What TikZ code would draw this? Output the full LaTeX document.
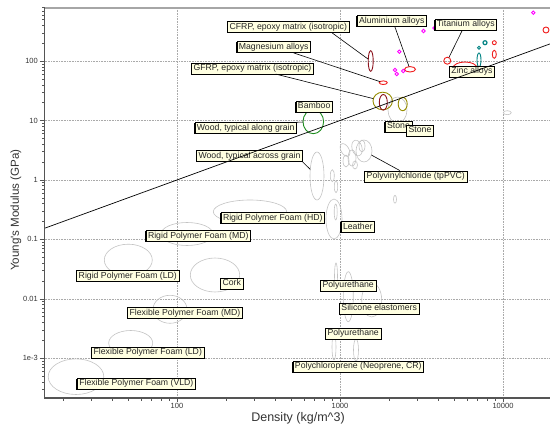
\documentclass[tikz,border=0pt]{standalone}
\usepackage{fontspec}
\setmainfont{Liberation Sans}
\usetikzlibrary{shapes.geometric,shadows}
\definecolor{lemon}{RGB}{255,255,225}
\definecolor{softgray}{RGB}{195,195,195}
\definecolor{gridgray}{RGB}{170,170,170}
\definecolor{axisgray}{RGB}{85,85,85}
\definecolor{darkred}{RGB}{140,20,30}
\definecolor{mustard}{RGB}{150,140,0}
\definecolor{matteal}{RGB}{0,130,130}
\definecolor{matgreen}{RGB}{30,140,30}
\definecolor{matpink}{RGB}{255,0,255}
\definecolor{matred}{RGB}{240,30,30}
\tikzset{
  lbl/.style={draw=black, fill=lemon, line width=0.5pt, text=black!85,
    font=\fontsize{8.7}{9}\selectfont, inner xsep=2pt, inner ysep=1.4pt,
    text height=6.4pt, text depth=1.8pt,
    drop shadow={shadow xshift=-0.8pt, shadow yshift=-0.8pt, opacity=1, fill=black}},
  soft/.style={draw=softgray, ellipse, inner sep=0pt, outer sep=0pt, line width=0.6pt},
  mat/.style={draw=#1, ellipse, inner sep=0pt, outer sep=0pt, line width=0.9pt},
  dims/.style n args={2}{minimum width=#1pt, minimum height=#2pt},
  lead/.style={draw=black, line width=0.6pt},
  gridline/.style={gridgray, densely dotted, line width=0.6pt},
  axisline/.style={axisgray, line width=0.6pt},
  ticklbl/.style={font=\fontsize{7.5}{8}\selectfont, text=black!80, inner sep=1pt}
}

\begin{document}
\begin{tikzpicture}[x=1pt,y=-1pt]
    \useasboundingbox (0,0) rectangle (550,428);

    % grid
    \foreach \gx in {177,340,503} \draw[gridline] (\gx,8) -- (\gx,398);
    \foreach \v in {-3,...,2} \draw[gridline] (44.5,{180-59.4*\v}) -- (550,{180-59.4*\v});

    % soft materials
    \node[soft, dims={55.6}{35.6}] (fvldel) at (76,376.7) {};
    \node[soft, dims={44}{25}] (fldel) at (130.7,343) {};
    \node[soft, dims={34}{28}] (fmdel) at (170,309.3) {};
    \node[soft, dims={48}{31.6}] (rldel) at (128.3,260) {};
    \node[soft, dims={52}{23}] (rmdel) at (187,234) {};
    \node[soft, dims={73.4}{23.4}] (rhdel) at (250,211.7) {};
    \node[soft, dims={49.4}{34}] (corkel) at (215,275) {};
    \node[soft, dims={14}{48}] (woodacel) at (317,176) {};
    \node[soft, dims={4}{12}] (sliverA) at (332.3,175.7) {};
    \node[soft, dims={3.4}{12}] (sliverB) at (336,186.7) {};
    \node[soft, dims={16}{40}] (leatherel) at (334,219) {};
    \node[soft, dims={3}{16}] (leatherin) at (335.7,212) {};
    \node[soft, dims={3}{8}] (sliverC) at (395,199.3) {};
    \node[soft, dims={19}{26}] (stonegr) at (397.5,110) {};
    \node[soft, dims={8}{4}] (sliverD) at (507.3,112.7) {};
    \node[soft, dims={3}{26}] (puelA) at (336,276) {};
    \node[soft, dims={10}{50}] (puelB) at (348.3,296.7) {};
    \node[soft, dims={20}{34}] (silel) at (371.7,300) {};
    \node[soft, dims={4}{26}] (neoelA) at (334,347) {};
    \node[soft, dims={5}{22}] (neoelB) at (356,350) {};
    % pvc cluster
    \node[soft, dims={8}{14}, rotate=30] (pvcA) at (345,150) {};
    \node[soft, dims={8}{16}] (pvcB) at (352,158) {};
    \node[soft, dims={10}{16}, rotate=15] (pvcC) at (357,148) {};
    \node[soft, dims={6}{12}] (pvcD) at (362,146) {};
    \node[soft, dims={16}{22}] (pvcE) at (364,151) {};
    \node[soft, dims={6}{12}] (pvcF) at (346,161) {};
    \node[soft, dims={5}{8}] (pvcG) at (355,165) {};

    % stiff materials
    \node[mat=darkred, dims={5}{20.6}] (cfrpel) at (370.7,61) {};
    \node[mat=matred, dims={8}{3.6}] (mgel) at (383.3,82.7) {};
    \node[mat=mustard, dims={19.4}{17.6}] (gfrpel) at (382.7,101) {};
    \node[mat=darkred, dims={8}{15.6}] (gfrpin) at (383.3,102.3) {};
    \node[mat=mustard, dims={9}{13.4}] (stoneel) at (402.7,104) {};
    \node[mat=matred, dims={11}{5.4}] (aluel) at (410,69.3) {};
    \node[mat=matred, dims={7}{7}] (tiel) at (447.3,60.7) {};
    \node[mat=matred, dims={24}{12}] (zincel) at (465,68) {};
    \node[mat=matred, dims={6}{6}] (redA) at (546,30) {};
    \node[mat=matred, dims={4}{4}] (redB) at (494.3,42.7) {};
    \node[mat=matred, dims={4}{8}] (redC) at (494.3,54.3) {};
    \node[mat=matteal, dims={4}{4}, line width=1.2pt] (tealA) at (485,42.7) {};
    \node[mat=matteal, dims={3}{3}] (tealB) at (479,47.7) {};
    \node[mat=matteal, dims={4}{14}] (tealC) at (479,60) {};
    \foreach \px/\py [count=\i] in {423.5/31,434.5/28,399.3/51.7,395/70,396.7/74,403.3/71,533.3/12.7}
      \node[mat=matpink, dims={3.4}{3.4}] (dot\i) at (\px,\py) {};
    \node[mat=matgreen, dims={20.6}{24}] (bambooel) at (313.3,121.7) {};

    % labels
    \node[lbl] (cfrp) at (288.3,27.2) {CFRP, epoxy matrix (isotropic)};
    \node[lbl] (mgal) at (273.7,47.2) {Magnesium alloys};
    \node[lbl] (gfrp) at (252.5,68.3) {GFRP, epoxy matrix (isotropic)};
    \node[lbl] (alu) at (391.8,20.8) {Aluminium alloys};
    \node[lbl] (ti) at (465.8,24.5) {Titanium alloys};
    \node[lbl] (zinc) at (472,71.7) {Zinc alloys};
    \node[lbl] (bamboo) at (314.2,106.7) {Bamboo};
    \node[lbl] (stoneA) at (398.5,126.3) {Stone};
    \node[lbl] (stoneB) at (420,130.3) {Stone};
    \node[lbl] (woodal) at (245.7,128) {Wood, typical along grain};
    \node[lbl] (woodac) at (249.5,156.2) {Wood, typical across grain};
    \node[lbl] (pvc) at (415.8,176.3) {Polyvinylchloride (tpPVC)};
    \node[lbl] (rhd) at (272.8,218) {Rigid Polymer Foam (HD)};
    \node[lbl] (leather) at (357.8,227) {Leather};
    \node[lbl] (rmd) at (198.3,236.2) {Rigid Polymer Foam (MD)};
    \node[lbl] (rld) at (127.8,275.8) {Rigid Polymer Foam (LD)};
    \node[lbl] (cork) at (231.7,283.5) {Cork};
    \node[lbl] (puA) at (348.2,285.5) {Polyurethane};
    \node[lbl] (sil) at (379.2,308.3) {Silicone elastomers};
    \node[lbl] (fmd) at (185,312.8) {Flexible Polymer Foam (MD)};
    \node[lbl] (puB) at (353.2,333.3) {Polyurethane};
    \node[lbl] (fld) at (147.8,352.5) {Flexible Polymer Foam (LD)};
    \node[lbl] (neo) at (358.3,366.5) {Polychloroprene (Neoprene, CR)};
    \node[lbl] (fvld) at (136.3,383.5) {Flexible Polymer Foam (VLD)};

    % leaders
    \draw[lead] ([xshift=-17pt]cfrp.south east) -- (cfrpel);
    \draw[lead] ([xshift=-17pt]mgal.south east) -- (mgel);
    \draw[lead] ([xshift=-38pt]gfrp.south east) -- (gfrpel);
    \draw[lead] ([xshift=3pt]alu.south) -- (aluel);
    \draw[lead] ([xshift=-3.5pt]ti.south) -- (tiel);
    \draw[lead] (woodal.north east) -- (bambooel);
    \draw[lead] (woodac.south east) -- (woodacel);
    \draw[lead] (pvcE) -- ([xshift=-16pt]pvc.north);

    % E/rho line
    \draw[line width=0.7pt] (44.5,228.3) -- (550,43.9);

    % axes
    \draw[gray!70, line width=1.2pt] (44.5,8) -- (550,8);
    \draw[axisgray, line width=1.1pt] (44.5,8) -- (44.5,398) -- (550,398);
    \begin{scope}
      \clip (30,8) rectangle (45,398);
      \foreach \e in {-4,...,2} \foreach \m in {2,...,9}
        \draw[axisline] (42.3,{180-59.4*(\e+ln(\m)/ln(10))}) -- (44.5,{180-59.4*(\e+ln(\m)/ln(10))});
    \end{scope}
    \begin{scope}
      \clip (44.5,397) rectangle (550,410);
      \foreach \e in {1,...,4} \foreach \m in {2,...,9}
        \draw[axisline] ({163*(\e+ln(\m)/ln(10))-149},398) -- ++(0,3);
    \end{scope}
    \foreach \v/\t in {2/100,1/10,0/1,-1/0.1,-2/0.01,-3/1e-3} {
      \draw[axisline] (39.5,{180-59.4*\v}) -- (44.5,{180-59.4*\v});
      \node[ticklbl, anchor=east] at (39,{180-59.4*\v}) {\t};
    }
    \foreach \gx/\t in {177/100,340/1000,503/10000} {
      \draw[axisline] (\gx,398) -- (\gx,402);
      \node[ticklbl, anchor=north] at (\gx,402.5) {\t};
    }
    \node[font=\fontsize{12.5}{14}\selectfont, text=black!80] (xtitle) at (298,418) {Density (kg/m\textasciicircum3)};
    \node[rotate=90, font=\fontsize{11.6}{13}\selectfont, text=black!80] (ytitle) at (16,210) {Young\textquotesingle s Modulus (GPa)};
\end{tikzpicture}
\end{document}
